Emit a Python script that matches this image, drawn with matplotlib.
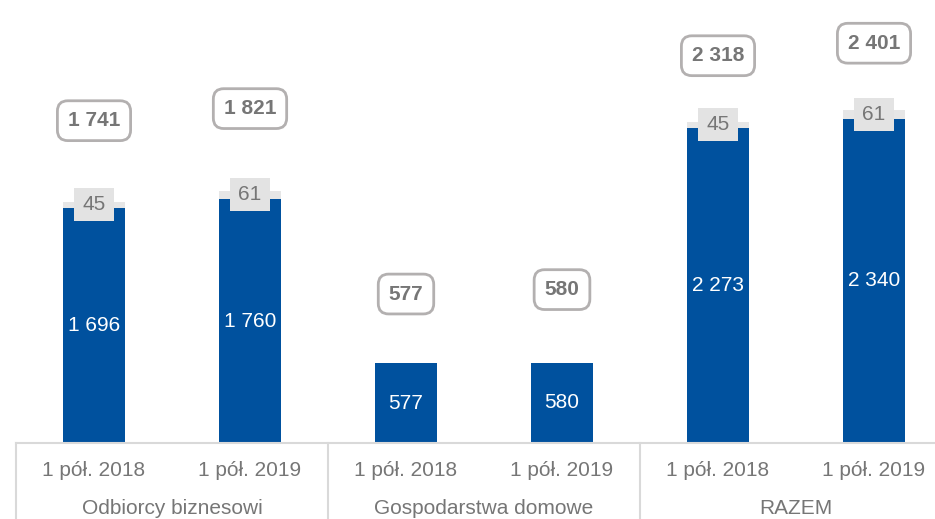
import matplotlib
matplotlib.use("Agg")
import matplotlib.pyplot as plt
import matplotlib.transforms as mtransforms
from matplotlib.patches import Rectangle

plt.rcParams['font.family'] = ['Liberation Sans', 'DejaVu Sans']

groups = ["Odbiorcy biznesowi", "Gospodarstwa domowe", "RAZEM"]
periods = ["1 pół. 2018", "1 pół. 2019"]
base_values = [1696, 1760, 577, 580, 2273, 2340]
extra_values = [45, 61, 0, 0, 45, 61]
total_values = [1741, 1821, 577, 580, 2318, 2401]

# layout: pixel offsets of the total label boxes above each bar
total_label_offsets_px = [81, 82, 69, 73, 66, 67]

BLUE = '#00519E'
GREY_SEG = '#e6e6e6'
GREY_BOX = '#e3e3e3'
TEXT = '#767676'
BORDER = '#b3b0b0'
AXIS = '#d9d9d9'

def fmt(v):
    return f"{v:,}".replace(",", " ")

W, H = 935, 519
fig = plt.figure(figsize=(W / 100, H / 100), dpi=100)
left_px, right_px, base_px = 16, 952, 443
slot_px = (right_px - left_px) / 6
ax = fig.add_axes([left_px / W, (H - base_px) / H, (right_px - left_px) / W, base_px / H])

px_per_unit = 0.1386
ax.set_xlim(-0.5, 5.5)
ax.set_ylim(0, base_px / px_per_unit)

x = list(range(len(base_values)))
bar_w = 62 / slot_px
ax.bar(x, base_values, width=bar_w, color=BLUE, zorder=2)
ax.bar(x, extra_values, bottom=base_values, width=bar_w, color=GREY_SEG, zorder=2)

box_w = 40 / slot_px
box_h = 33 / px_per_unit
for xi, b, e, t, off in zip(x, base_values, extra_values, total_values, total_label_offsets_px):
    ax.text(xi, b / 2, fmt(b), ha='center', va='center', color='white', fontsize=15, zorder=3)
    if e:
        yc = b + e / 2
        ax.add_patch(Rectangle((xi - box_w / 2, yc - box_h / 2), box_w, box_h,
                               facecolor=GREY_BOX, edgecolor='none', zorder=3))
        ax.text(xi, yc, f"{e}", ha='center', va='center', color=TEXT, fontsize=15, zorder=4)
    ax.annotate(fmt(t), xy=(xi, t), xytext=(0, off * 0.72), textcoords='offset points',
                ha='center', va='center', color=TEXT, fontsize=15, fontweight='bold', zorder=5,
                bbox=dict(boxstyle='round,pad=0.5,rounding_size=0.5', facecolor='white',
                          edgecolor=BORDER, linewidth=2))

for s in ['top', 'right', 'left']:
    ax.spines[s].set_visible(False)
ax.spines['bottom'].set_color(AXIS)
ax.spines['bottom'].set_linewidth(1.5)
ax.set_xticks([])
ax.set_yticks([])

trans = mtransforms.blended_transform_factory(ax.transData, ax.transAxes)
for sx in [-0.5, 1.5, 3.5, 5.5]:
    ax.plot([sx, sx], [0, -(H - base_px) / base_px],
            transform=trans, color=AXIS, linewidth=1.5, clip_on=False)

tick_y = -27 / base_px
group_y = -65 / base_px
for i, xi in enumerate(x):
    ax.text(xi, tick_y, periods[i % 2], transform=trans, ha='center', va='center', color=TEXT, fontsize=15)
for g, name in enumerate(groups):
    ax.text(2 * g + 0.5, group_y, name, transform=trans, ha='center', va='center', color=TEXT, fontsize=15)

fig.savefig("out.png", dpi=100)
